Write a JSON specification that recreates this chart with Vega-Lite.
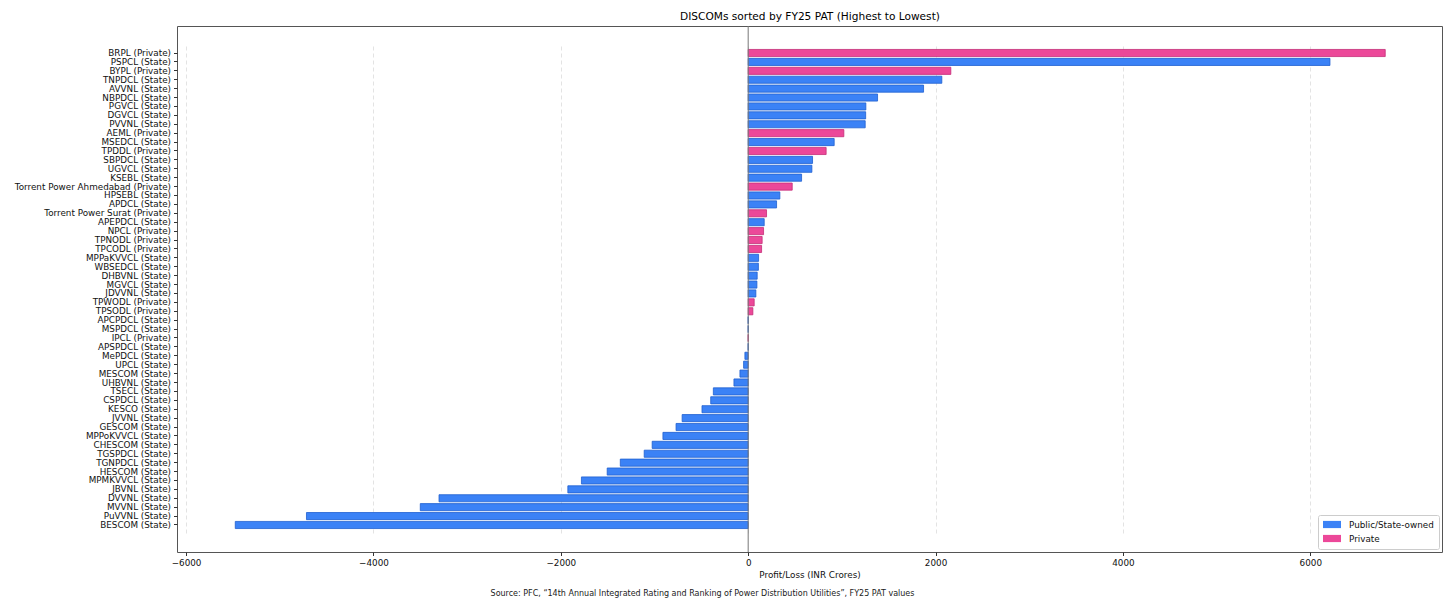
{
  "$schema": "https://vega.github.io/schema/vega-lite/v6.json",
  "width": 1265,
  "height": 526,
  "autosize": {"type": "none"},
  "padding": {"left": 177, "top": 26, "right": 14, "bottom": 60},
  "background": "white",
  "title": {
    "text": "Source: PFC, “14th Annual Integrated Rating and Ranking of Power Distribution Utilities”, FY25 PAT values",
    "orient": "bottom",
    "anchor": "middle",
    "frame": "group",
    "dx": -107,
    "offset": 11,
    "fontSize": 8,
    "fontWeight": "normal",
    "font": "DejaVu Sans",
    "color": "#222222"
  },
  "config": {
    "font": "DejaVu Sans",
    "view": {"stroke": "#555555", "strokeWidth": 1},
    "axis": {
      "labelFont": "DejaVu Sans",
      "titleFont": "DejaVu Sans",
      "labelColor": "#111111",
      "titleColor": "#111111",
      "tickColor": "#333333",
      "domain": false
    },
    "legend": {
      "labelFont": "DejaVu Sans"
    }
  },
  "data": {
    "values": [
      {"name": "BRPL (Private)", "type": "Private", "pat": 6800},
      {"name": "PSPCL (State)", "type": "Public/State-owned", "pat": 6210},
      {"name": "BYPL (Private)", "type": "Private", "pat": 2163},
      {"name": "TNPDCL (State)", "type": "Public/State-owned", "pat": 2067},
      {"name": "AVVNL (State)", "type": "Public/State-owned", "pat": 1872},
      {"name": "NBPDCL (State)", "type": "Public/State-owned", "pat": 1381},
      {"name": "PGVCL (State)", "type": "Public/State-owned", "pat": 1256},
      {"name": "DGVCL (State)", "type": "Public/State-owned", "pat": 1254},
      {"name": "PVVNL (State)", "type": "Public/State-owned", "pat": 1249},
      {"name": "AEML (Private)", "type": "Private", "pat": 1021},
      {"name": "MSEDCL (State)", "type": "Public/State-owned", "pat": 918},
      {"name": "TPDDL (Private)", "type": "Private", "pat": 832},
      {"name": "SBPDCL (State)", "type": "Public/State-owned", "pat": 687},
      {"name": "UGVCL (State)", "type": "Public/State-owned", "pat": 680},
      {"name": "KSEBL (State)", "type": "Public/State-owned", "pat": 570},
      {"name": "Torrent Power Ahmedabad (Private)", "type": "Private", "pat": 470},
      {"name": "HPSEBL (State)", "type": "Public/State-owned", "pat": 338},
      {"name": "APDCL (State)", "type": "Public/State-owned", "pat": 303},
      {"name": "Torrent Power Surat (Private)", "type": "Private", "pat": 196},
      {"name": "APEPDCL (State)", "type": "Public/State-owned", "pat": 171},
      {"name": "NPCL (Private)", "type": "Private", "pat": 164},
      {"name": "TPNODL (Private)", "type": "Private", "pat": 149},
      {"name": "TPCODL (Private)", "type": "Private", "pat": 143},
      {"name": "MPPaKVVCL (State)", "type": "Public/State-owned", "pat": 111},
      {"name": "WBSEDCL (State)", "type": "Public/State-owned", "pat": 109},
      {"name": "DHBVNL (State)", "type": "Public/State-owned", "pat": 96},
      {"name": "MGVCL (State)", "type": "Public/State-owned", "pat": 93},
      {"name": "JDVVNL (State)", "type": "Public/State-owned", "pat": 82},
      {"name": "TPWODL (Private)", "type": "Private", "pat": 64},
      {"name": "TPSODL (Private)", "type": "Private", "pat": 50},
      {"name": "APCPDCL (State)", "type": "Public/State-owned", "pat": 0},
      {"name": "MSPDCL (State)", "type": "Public/State-owned", "pat": 0},
      {"name": "IPCL (Private)", "type": "Private", "pat": 0},
      {"name": "APSPDCL (State)", "type": "Public/State-owned", "pat": 0},
      {"name": "MePDCL (State)", "type": "Public/State-owned", "pat": -35},
      {"name": "UPCL (State)", "type": "Public/State-owned", "pat": -49},
      {"name": "MESCOM (State)", "type": "Public/State-owned", "pat": -88},
      {"name": "UHBVNL (State)", "type": "Public/State-owned", "pat": -152},
      {"name": "TSECL (State)", "type": "Public/State-owned", "pat": -372},
      {"name": "CSPDCL (State)", "type": "Public/State-owned", "pat": -400},
      {"name": "KESCO (State)", "type": "Public/State-owned", "pat": -493},
      {"name": "JVVNL (State)", "type": "Public/State-owned", "pat": -705},
      {"name": "GESCOM (State)", "type": "Public/State-owned", "pat": -770},
      {"name": "MPPoKVVCL (State)", "type": "Public/State-owned", "pat": -910},
      {"name": "CHESCOM (State)", "type": "Public/State-owned", "pat": -1025},
      {"name": "TGSPDCL (State)", "type": "Public/State-owned", "pat": -1110},
      {"name": "TGNPDCL (State)", "type": "Public/State-owned", "pat": -1365},
      {"name": "HESCOM (State)", "type": "Public/State-owned", "pat": -1505},
      {"name": "MPMKVVCL (State)", "type": "Public/State-owned", "pat": -1780},
      {"name": "JBVNL (State)", "type": "Public/State-owned", "pat": -1925},
      {"name": "DVVNL (State)", "type": "Public/State-owned", "pat": -3300},
      {"name": "MVVNL (State)", "type": "Public/State-owned", "pat": -3500},
      {"name": "PuVVNL (State)", "type": "Public/State-owned", "pat": -4715},
      {"name": "BESCOM (State)", "type": "Public/State-owned", "pat": -5475}
    ]
  },
  "layer": [
    {
      "mark": {"type": "bar", "strokeWidth": 0.8},
      "encoding": {
        "y": {
          "field": "name",
          "type": "nominal",
          "sort": null,
          "scale": {"paddingInner": 0.2, "paddingOuter": 0.5, "range": [19, 507]},
          "axis": {
            "title": null,
            "labelFontSize": 8.8,
            "tickSize": 3.5,
            "labelPadding": 3,
            "grid": false
          }
        },
        "x": {
          "field": "pat",
          "type": "quantitative",
          "scale": {"domain": [-6097, 7406], "nice": false, "zero": false},
          "axis": {
            "title": "Profit/Loss (INR Crores)",
            "titleFontSize": 8.8,
            "titleFontWeight": "normal",
            "titlePadding": 3,
            "labelFontSize": 8.8,
            "tickSize": 3.5,
            "labelPadding": 3,
            "values": [-6000, -4000, -2000, 0, 2000, 4000, 6000],
            "labelExpr": "replace(format(datum.value, 'd'), '-', '−')",
            "grid": true,
            "gridColor": "#dcdcdc",
            "gridDash": [4, 3],
            "gridWidth": 0.8
          }
        },
        "color": {
          "field": "type",
          "type": "nominal",
          "scale": {"domain": ["Public/State-owned", "Private"], "range": ["#3b82f6", "#ec4899"]},
          "legend": {
            "title": null,
            "orient": "bottom-right",
            "offset": 3,
            "labelFontSize": 8.8,
            "labelColor": "#111111",
            "labelOffset": 17,
            "symbolType": "M-1,-0.8H3V0.8H-1Z",
            "symbolSize": 81,
            "symbolStrokeWidth": 0,
            "strokeColor": "#cccccc",
            "fillColor": "white",
            "padding": 5,
            "cornerRadius": 2,
            "rowPadding": 4
          }
        },
        "stroke": {
          "field": "type",
          "type": "nominal",
          "scale": {"domain": ["Public/State-owned", "Private"], "range": ["#1f5fcf", "#c42d77"]},
          "legend": null
        }
      }
    },
    {
      "data": {"values": [{"zero": 0}]},
      "mark": {"type": "rule", "color": "#777777", "strokeWidth": 1},
      "encoding": {
        "x": {
          "field": "zero",
          "type": "quantitative",
          "scale": {"domain": [-6097, 7406], "nice": false, "zero": false},
          "axis": {
            "orient": "top",
            "labels": false,
            "ticks": false,
            "grid": false,
            "domain": false,
            "title": "DISCOMs sorted by FY25 PAT (Highest to Lowest)",
            "titleFontSize": 10.6,
            "titleFontWeight": "normal",
            "titleColor": "#000000",
            "titlePadding": 5
          }
        }
      }
    }
  ],
  "resolve": {"axis": {"x": "independent"}}
}
